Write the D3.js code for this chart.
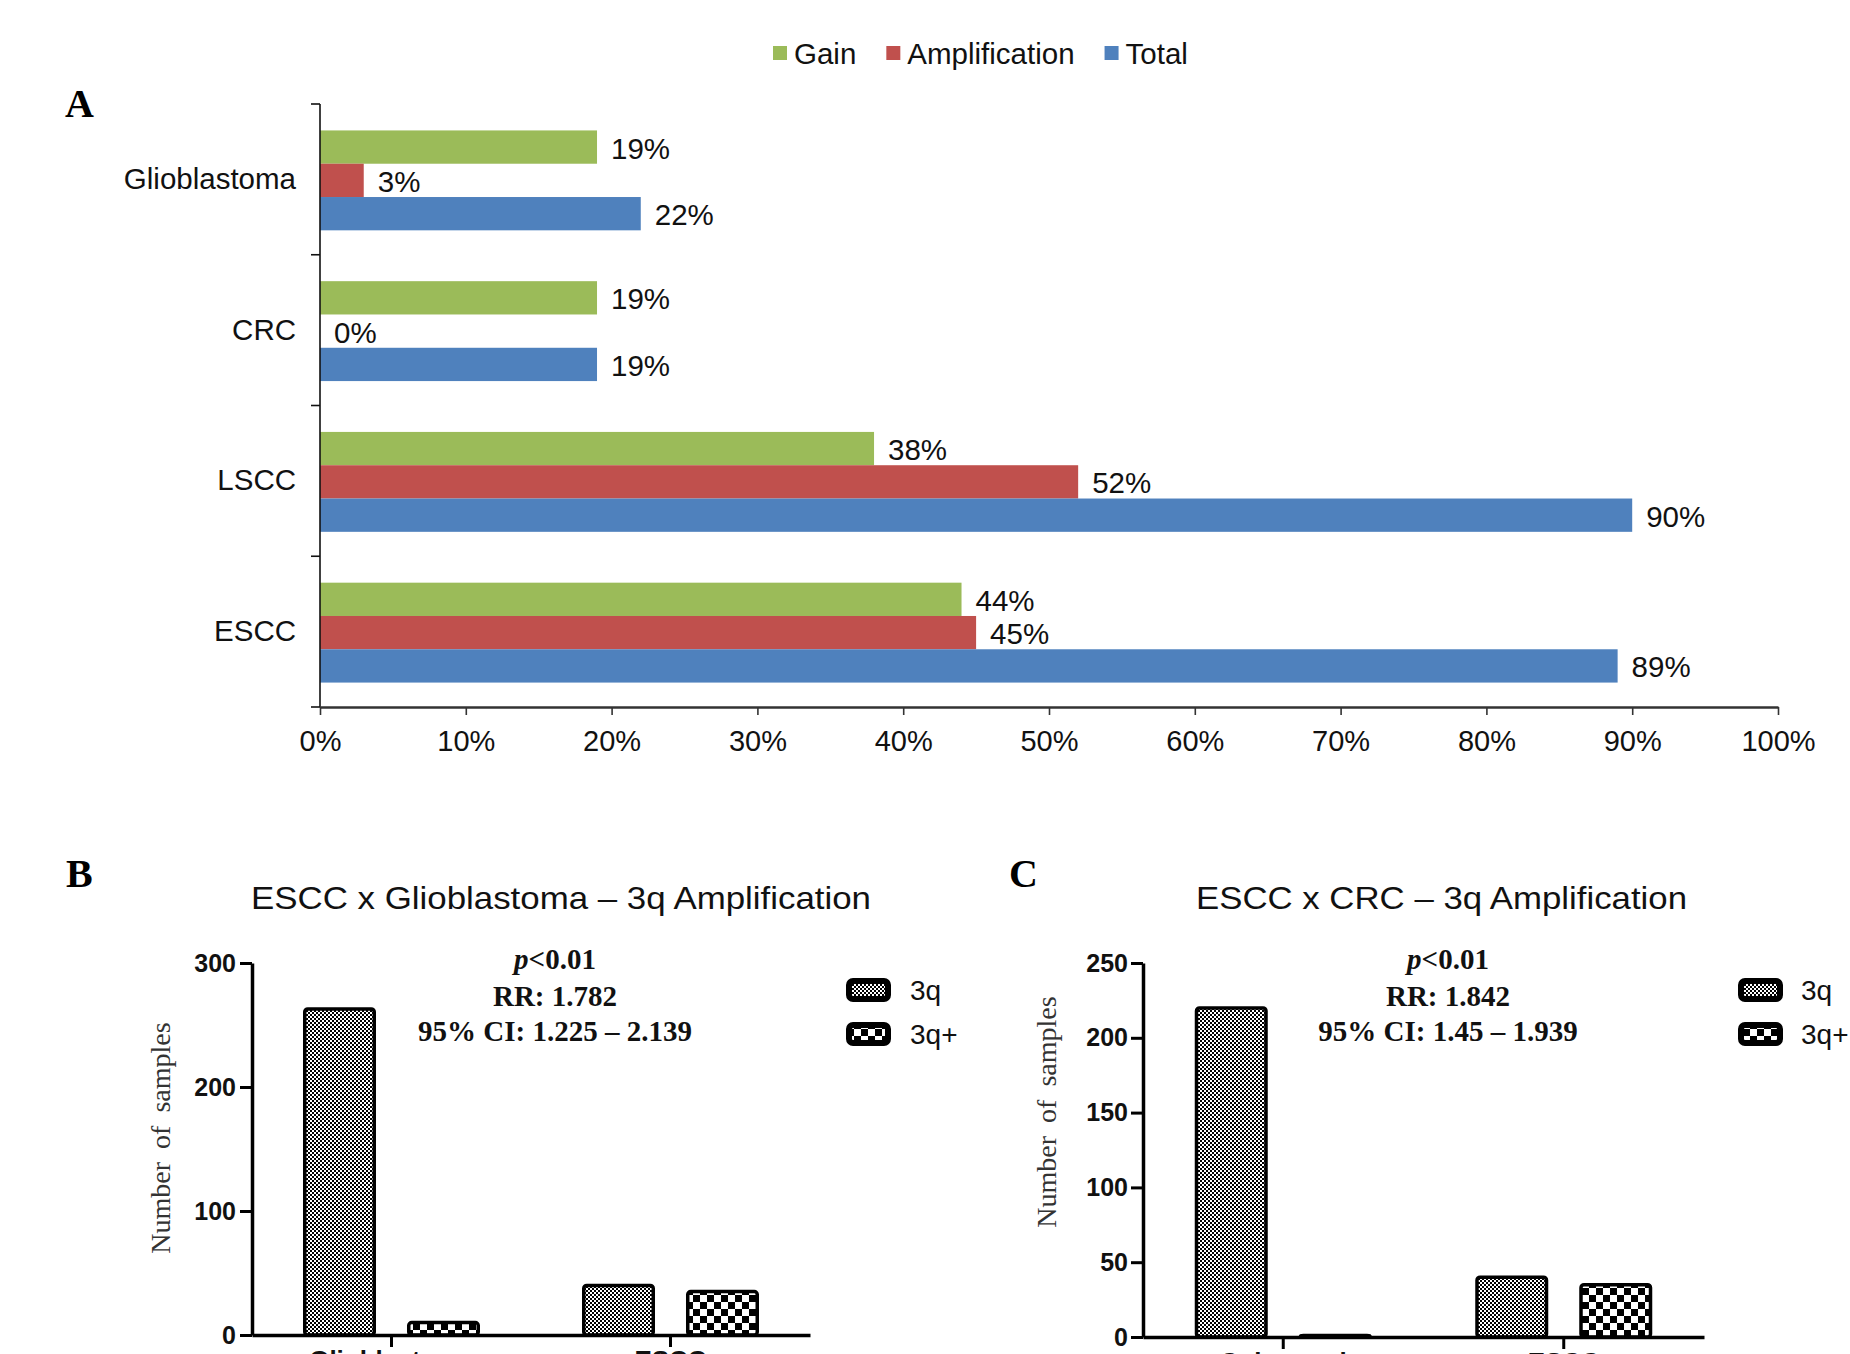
<!DOCTYPE html>
<html><head><meta charset="utf-8">
<script src="https://cdn.jsdelivr.net/npm/d3@7"></script>
<style>body{margin:0;background:#fff} svg{display:block}</style>
</head><body>
<script>
// ---------- Panel A data ----------
const catsA = ["Glioblastoma", "CRC", "LSCC", "ESCC"];
const seriesA = ["Gain", "Amplification", "Total"];
const gainA = [19, 19, 38, 44];
const ampA = [3, 0, 52, 45];
const totalA = [22, 19, 90, 89];
const xTicksA = [0, 10, 20, 30, 40, 50, 60, 70, 80, 90, 100];
const colorsA = ["#9BBB59", "#C0504D", "#4F81BD"];

// ---------- Panel B data ----------
const seriesBC = ["3q", "3q+"];
const catsB = ["Glioblastoma", "ESCC"];
const b3q = [263, 40];
const b3qPlus = [10, 35];
const yTicksB = [0, 100, 200, 300];
const statsB = ["p<0.01", "RR: 1.782", "95% CI: 1.225 – 2.139"];
const titleB = "ESCC x Glioblastoma – 3q Amplification";

// ---------- Panel C data ----------
const catsC = ["Colorectal", "ESCC"];
const c3q = [220, 40];
const c3qPlus = [1, 35];
const yTicksC = [0, 50, 100, 150, 200, 250];
const statsC = ["p<0.01", "RR: 1.842", "95% CI: 1.45 – 1.939"];
const titleC = "ESCC x CRC – 3q Amplification";

const yTitle = "Number of samples";

const SANS = "'Liberation Sans', Arial, Helvetica, sans-serif";
const SERIF = "'Liberation Serif', 'Times New Roman', Times, serif";
const FA = 29.5;

const svg = d3.select("body").append("svg")
  .attr("width", 1850).attr("height", 1354)
  .style("overflow", "hidden");

// patterns
const defs = svg.append("defs");
const pf = defs.append("pattern").attr("id", "fine").attr("patternUnits", "userSpaceOnUse")
  .attr("width", 4).attr("height", 4);
pf.append("rect").attr("width", 4).attr("height", 4).attr("fill", "#fff");
pf.append("rect").attr("width", 2).attr("height", 2).attr("fill", "#000");
pf.append("rect").attr("x", 2).attr("y", 2).attr("width", 2).attr("height", 2).attr("fill", "#000");
const pc = defs.append("pattern").attr("id", "coarse").attr("patternUnits", "userSpaceOnUse")
  .attr("width", 14).attr("height", 14);
pc.append("rect").attr("width", 14).attr("height", 14).attr("fill", "#fff");
pc.append("rect").attr("width", 7).attr("height", 7).attr("fill", "#000");
pc.append("rect").attr("x", 7).attr("y", 7).attr("width", 7).attr("height", 7).attr("fill", "#000");
const patterns = ["url(#fine)", "url(#coarse)"];

// ================= Panel A =================
const gA = svg.append("g");
const xA = d3.scaleLinear().domain([0, 100]).range([320, 1778]);
const yA = d3.scaleBand().domain(catsA).range([104, 707]);
const barH = 33.3;
const yIn = d3.scaleBand().domain(seriesA).range([0, 3 * barH]);
const offA = (yA.bandwidth() - 3 * barH) / 2 + 1;
const valsA = [gainA, ampA, totalA];

seriesA.forEach((s, si) => {
  gA.append("g").selectAll("rect").data(catsA).join("rect")
    .attr("x", xA(0))
    .attr("y", c => yA(c) + offA + yIn(s))
    .attr("width", (c, i) => xA(valsA[si][i]) - xA(0))
    .attr("height", yIn.bandwidth())
    .attr("fill", colorsA[si]);
  gA.append("g").selectAll("text").data(catsA).join("text")
    .attr("x", (c, i) => xA(valsA[si][i]) + 14)
    .attr("y", c => yA(c) + offA + yIn(s) + yIn.bandwidth() / 2 + 1)
    .attr("dominant-baseline", "central")
    .attr("font-family", SANS).attr("font-size", FA).attr("fill", "#111")
    .text((c, i) => valsA[si][i] + "%");
});

// y axis (line + boundary ticks + labels)
gA.append("line").attr("x1", 320).attr("x2", 320).attr("y1", 104).attr("y2", 707)
  .attr("stroke", "#111").attr("stroke-width", 1.6);
const bounds = catsA.map(c => yA(c)).concat([yA.range()[1]]);
gA.append("g").selectAll("line").data(bounds).join("line")
  .attr("x1", 311).attr("x2", 320).attr("y1", d => d).attr("y2", d => d)
  .attr("stroke", "#111").attr("stroke-width", 1.6);
gA.append("g").selectAll("text").data(catsA).join("text")
  .attr("x", 296).attr("y", c => yA(c) + yA.bandwidth() / 2 - 1)
  .attr("text-anchor", "end").attr("dominant-baseline", "central")
  .attr("font-family", SANS).attr("font-size", FA).attr("fill", "#111")
  .text(c => c);

// x axis
const axA = gA.append("g").attr("transform", "translate(0,707)")
  .call(d3.axisBottom(xA).tickValues(xTicksA).tickFormat(d => d + "%")
    .tickSize(8).tickSizeOuter(0).tickPadding(15));
axA.select(".domain").attr("stroke", "#333").attr("stroke-width", 2.6);
axA.selectAll(".tick line").attr("stroke", "#333").attr("stroke-width", 1.6);
axA.selectAll(".tick text").attr("font-family", SANS).attr("font-size", 29).attr("fill", "#111");

// legend A
const legA = svg.append("g");
let lx = 773;
seriesA.forEach((s, si) => {
  legA.append("rect").attr("x", lx).attr("y", 46).attr("width", 14).attr("height", 14).attr("fill", colorsA[si]);
  const t = legA.append("text").attr("x", lx + 21).attr("y", 53)
    .attr("dominant-baseline", "central")
    .attr("font-family", SANS).attr("font-size", FA).attr("fill", "#111").text(s);
  lx += 21 + t.node().getComputedTextLength() + 30;
});

// panel letters
[["A", 65, 117], ["B", 66, 887], ["C", 1009, 887]].forEach(([t, px, py]) => {
  svg.append("text").attr("x", px).attr("y", py)
    .attr("font-family", SERIF).attr("font-weight", "bold").attr("font-size", 40).attr("fill", "#000").text(t);
});

// ================= Panels B & C =================
function drawPanel(o) {
  const g = svg.append("g");
  const yS = d3.scaleLinear().domain([0, o.yMax]).range(o.yRange);
  const xS = d3.scaleBand().domain(o.cats).range(o.xRange);
  const groupW = 177;
  const xIn = d3.scaleBand().domain(seriesBC).range([0, groupW]).paddingInner(0.298);
  const vals = [o.v3q, o.v3qp];
  const sw = 3.5;

  seriesBC.forEach((s, si) => {
    g.append("g").selectAll("rect").data(o.cats).join("rect")
      .attr("x", c => xS(c) + (xS.bandwidth() - groupW) / 2 + xIn(s) + sw / 2)
      .attr("y", (c, i) => yS(vals[si][i]))
      .attr("width", xIn.bandwidth() - sw)
      .attr("height", (c, i) => yS(0) - yS(vals[si][i]))
      .attr("rx", 3)
      .attr("fill", patterns[si]).attr("stroke", "#000").attr("stroke-width", sw);
  });

  // y axis
  const ay = g.append("g").attr("transform", `translate(${o.xRange[0]},0)`)
    .call(d3.axisLeft(yS).tickValues(o.yTicks).tickSize(12).tickSizeOuter(0).tickPadding(o.tickPad));
  ay.select(".domain").attr("stroke", "#000").attr("stroke-width", 3.5);
  ay.selectAll(".tick line").attr("stroke", "#000").attr("stroke-width", 3);
  ay.selectAll(".tick text").attr("font-family", SANS).attr("font-weight", "bold")
    .attr("font-size", 25).attr("fill", "#111");

  // x axis
  const ax = g.append("g").attr("transform", `translate(0,${o.yRange[0]})`)
    .call(d3.axisBottom(xS).tickSize(12).tickSizeOuter(0).tickPadding(4));
  ax.select(".domain").attr("stroke", "#000").attr("stroke-width", 3.5);
  ax.selectAll(".tick line").attr("stroke", "#000").attr("stroke-width", 3);
  ax.selectAll(".tick text").attr("font-family", SANS).attr("font-weight", "bold")
    .attr("font-size", 26).attr("fill", "#111");

  // title
  g.append("text").attr("x", o.titleX).attr("y", 909)
    .attr("textLength", o.titleLen).attr("lengthAdjust", "spacingAndGlyphs")
    .attr("font-family", SANS).attr("font-size", 32).attr("fill", "#111").text(o.title);

  // stats
  const sy = [969, 1006, 1041];
  o.stats.forEach((s, i) => {
    const t = g.append("text").attr("x", o.statsX).attr("y", sy[i]).attr("text-anchor", "middle")
      .attr("font-family", SERIF).attr("font-weight", "bold").attr("font-size", 29).attr("fill", "#111");
    if (s.startsWith("p")) {
      t.append("tspan").attr("font-style", "italic").text("p");
      t.append("tspan").text(s.slice(1));
    } else t.text(s);
  });

  // y title
  g.append("text").attr("transform", `translate(${o.yTitle[0]},${o.yTitle[1]}) rotate(-90)`)
    .attr("text-anchor", "middle").attr("dy", "0.35em")
    .attr("font-family", SERIF).attr("font-size", 28).attr("fill", "#333")
    .attr("word-spacing", 6).text(yTitle);

  // legend
  seriesBC.forEach((s, si) => {
    const ly = [978, 1022][si];
    g.append("rect").attr("x", o.legX + 3).attr("y", ly + 3).attr("width", 39).attr("height", 18)
      .attr("rx", 4).attr("fill", patterns[si]).attr("stroke", "#000").attr("stroke-width", 6);
    g.append("text").attr("x", o.legTextX).attr("y", ly + 12).attr("dominant-baseline", "central")
      .attr("font-family", SANS).attr("font-size", 28).attr("fill", "#111").text(s);
  });
}

drawPanel({
  cats: catsB, v3q: b3q, v3qp: b3qPlus, yMax: 300, yTicks: yTicksB,
  yRange: [1335, 963], xRange: [252, 810], tickPad: 4,
  title: titleB, titleX: 251, titleLen: 620,
  stats: statsB, statsX: 555, yTitle: [160, 1138],
  legX: 846, legTextX: 910
});
drawPanel({
  cats: catsC, v3q: c3q, v3qp: c3qPlus, yMax: 250, yTicks: yTicksC,
  yRange: [1337, 963], xRange: [1143, 1704], tickPad: 3,
  title: titleC, titleX: 1196, titleLen: 491,
  stats: statsC, statsX: 1448, yTitle: [1046, 1112],
  legX: 1738, legTextX: 1801
});
</script>
</body></html>
